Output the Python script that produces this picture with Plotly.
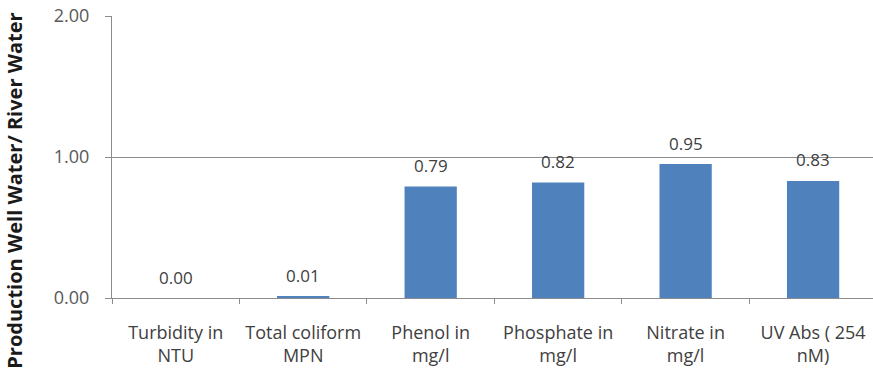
import plotly.graph_objects as go

categories = ["Turbidity in<br>NTU", "Total coliform<br>MPN", "Phenol in<br>mg/l",
              "Phosphate in<br>mg/l", "Nitrate in<br>mg/l", "UV Abs ( 254<br>nM)"]
values = [0.00, 0.01, 0.79, 0.82, 0.95, 0.83]
value_labels = ["0.00", "0.01", "0.79", "0.82", "0.95", "0.83"]
y_ticks = [0, 1, 2]
y_tick_labels = ["0.00", "1.00", "2.00"]
y_title = "Production Well Water/ River Water"

FONT = "Open Sans"

fig = go.Figure()
fig.add_trace(go.Bar(
    x=categories, y=values, width=0.41,
    marker=dict(color="#4F81BD", line=dict(width=0)),
    hoverinfo="skip",
))

for c, v, t in zip(categories, values, value_labels):
    fig.add_annotation(x=c, y=v, xref="x", yref="y", text=t, showarrow=False,
                       yanchor="middle", yshift=21,
                       font=dict(family=FONT, size=17, color="#404040"))

fig.add_annotation(x=-0.128, y=0.379, xref="paper", yref="paper", text="<b>" + y_title + "</b>",
                   textangle=-90, showarrow=False, xanchor="center", yanchor="middle",
                   font=dict(family=FONT, size=20, color="#1a1a1a"))

fig.update_layout(
    width=873, height=379,
    margin=dict(l=112, r=0, t=16, b=81),
    paper_bgcolor="white", plot_bgcolor="white",
    showlegend=False,
    font=dict(family=FONT),
)
fig.update_xaxes(
    range=[-0.5, 5.47], showline=True, linecolor="#8c8c8c", linewidth=1,
    ticks="outside", tickson="boundaries", ticklen=5, tickcolor="#8c8c8c",
    tickfont=dict(family=FONT, size=18, color="#404040"),
    ticklabelstandoff=18, showgrid=False, zeroline=False,
)
fig.update_yaxes(
    range=[0, 2], tickvals=y_ticks, ticktext=y_tick_labels,
    showline=True, linecolor="#8c8c8c", linewidth=1,
    ticks="outside", ticklen=6, tickcolor="#8c8c8c",
    tickfont=dict(family=FONT, size=18, color="#595959"),
    ticklabelstandoff=12,
    showgrid=True, gridcolor="#8c8c8c", gridwidth=1, zeroline=False,
)

fig.write_html("out.html")
